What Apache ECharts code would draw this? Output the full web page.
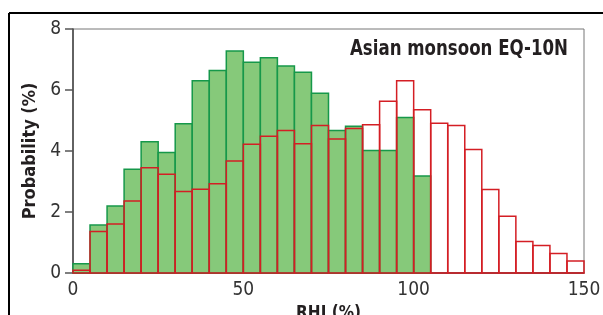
<!DOCTYPE html>
<html>
<head>
<meta charset="utf-8">
<script src="https://cdn.jsdelivr.net/npm/echarts@6/dist/echarts.min.js"></script>
<style>
html,body{margin:0;padding:0;background:#fff;}
#c{width:603px;height:315px;}
</style>
</head>
<body>
<div id="c"></div>
<script>
// Bin edges of RHI (%)
var binEdges = [0,5,10,15,20,25,30,35,40,45,50,55,60,65,70,75,80,85,90,95,100,105,110,115,120,125,130,135,140,145,150];
// Green histogram (probability %), bins 0-105
var greenValues = [0.30,1.57,2.20,3.40,4.30,3.95,4.89,6.30,6.64,7.28,6.91,7.06,6.79,6.58,5.89,4.67,4.81,4.02,4.02,5.10,3.18];
// Red outline histogram (probability %), bins 0-150
var redValues = [0.09,1.36,1.61,2.36,3.45,3.24,2.67,2.75,2.93,3.67,4.22,4.48,4.67,4.24,4.84,4.39,4.74,4.86,5.63,6.30,5.35,4.91,4.84,4.05,2.74,1.86,1.03,0.90,0.64,0.39];
var xTicks = [0,50,100,150];
var yTicks = [0,2,4,6,8];
var titleText = 'Asian monsoon EQ-10N';
var xName = 'RHI (%)';
var yName = 'Probability (%)';

var FONT = "'DejaVu Sans Condensed','Liberation Sans Narrow','Liberation Sans',sans-serif";

function toData(vals){
  var out = [];
  for (var i=0;i<vals.length;i++) out.push([binEdges[i], binEdges[i+1], vals[i]]);
  return out;
}
function makeRender(fill, stroke){
  return function(params, api){
    var x0 = api.value(0), x1 = api.value(1), v = api.value(2);
    var p0 = api.coord([x0, v]);
    var p1 = api.coord([x1, 0]);
    return {
      type:'rect',
      shape:{x:p0[0], y:p0[1], width:p1[0]-p0[0], height:p1[1]-p0[1]},
      style:{fill:fill, stroke:stroke, lineWidth:1.5}
    };
  };
}

var chart = echarts.init(document.getElementById('c'), null, {renderer:'canvas'});
chart.setOption({
  animation:false,
  backgroundColor:'#fff',
  grid:{left:73, right:19, top:29, bottom:42, show:true, borderColor:'#777', borderWidth:1,
        backgroundColor:'transparent', containLabel:false, outerBoundsMode:'none'},
  xAxis:{
    type:'value', min:0, max:150, interval:50,
    name:xName, nameLocation:'middle', nameGap:27,
    nameTextStyle:{fontFamily:FONT, fontSize:17, fontWeight:'bold', color:'#231f20'},
    axisLine:{show:true, lineStyle:{color:'#4a3535', width:1.5}},
    axisTick:{show:false},
    splitLine:{show:false},
    axisLabel:{fontFamily:FONT, fontSize:19, color:'#333', margin:8,
      formatter:function(v){ return xTicks.indexOf(v)>=0 ? String(v) : ''; }}
  },
  yAxis:{
    type:'value', min:0, max:8, interval:2,
    name:yName, nameLocation:'middle', nameGap:25,
    nameTextStyle:{fontFamily:FONT, fontSize:18, fontWeight:'bold', color:'#231f20'},
    axisLine:{show:true, lineStyle:{color:'#444', width:1.5}},
    axisTick:{show:true, inside:false, length:8, lineStyle:{color:'#555', width:1.5}},
    splitLine:{show:false},
    axisLabel:{fontFamily:FONT, fontSize:19, color:'#333', margin:12,
      formatter:function(v){ return yTicks.indexOf(v)>=0 ? String(v) : ''; }}
  },
  graphic:[
    {type:'line', shape:{x1:9, y1:13, x2:603, y2:13}, style:{stroke:'#000', lineWidth:2}, z:100},
    {type:'line', shape:{x1:9, y1:13, x2:9, y2:315}, style:{stroke:'#000', lineWidth:2}, z:100},
    {type:'text', x:568, y:38, scaleX:0.84, z:100,
      style:{text:titleText, align:'right', verticalAlign:'top',
        font:"bold 22px 'DejaVu Sans Condensed','Liberation Sans',sans-serif", fill:'#231f20'}}
  ],
  series:[
    {type:'custom', data:toData(greenValues), renderItem:makeRender('#86c97a','#16984a'), z:2},
    {type:'custom', data:toData(redValues), renderItem:makeRender('rgba(0,0,0,0)','#d41e24'), z:3}
  ]
});
</script>
</body>
</html>
